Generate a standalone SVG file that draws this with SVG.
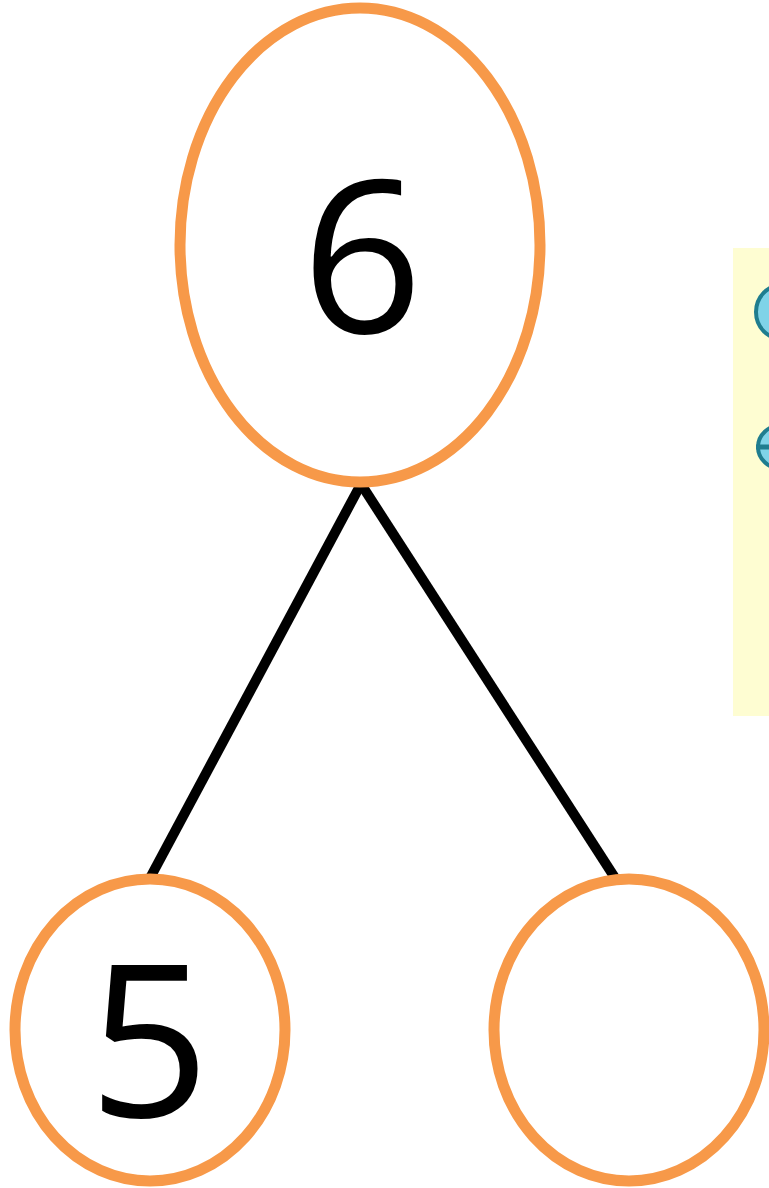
<svg xmlns="http://www.w3.org/2000/svg" width="769" height="1188" viewBox="0 0 769 1188">
<style>
.node{fill:#fff;stroke:#f79949;stroke-width:11}
.lbl{font-family:"Open Sans","Noto Sans",sans-serif;font-size:212px;fill:#000;text-anchor:middle}
.edge{stroke:#000;stroke-width:10;fill:none}
.ic{fill:#7fd3e8;stroke:#1f7d8f;stroke-width:4}
</style>
<defs><clipPath id="cb"><rect x="733" y="248" width="36" height="468"/></clipPath></defs>
<rect width="769" height="1188" fill="#fff"/>
<g id="panel" clip-path="url(#cb)">
<rect x="733" y="248" width="36" height="468" fill="#fefdd2"/>
<ellipse class="ic" cx="782" cy="312" rx="26" ry="27"/>
<ellipse class="ic" cx="782" cy="447" rx="24" ry="22"/>
<line x1="756" y1="447" x2="769" y2="447" stroke="#1f7d8f" stroke-width="5"/>
</g>
<g id="connectors">
<line class="edge" x1="361" y1="484" x2="150" y2="878"/>
<line class="edge" x1="361" y1="484" x2="617" y2="881"/>
</g>
<g id="n6">
<ellipse class="node" cx="360" cy="245" rx="180" ry="237"/>
<text class="lbl" x="362" y="333">6</text>
</g>
<g id="n5">
<ellipse class="node" cx="150" cy="1030" rx="135" ry="151"/>
<text class="lbl" x="149" y="1117">5</text>
</g>
<g id="nEmpty">
<ellipse class="node" cx="629" cy="1030" rx="135" ry="151"/>
</g>
</svg>
